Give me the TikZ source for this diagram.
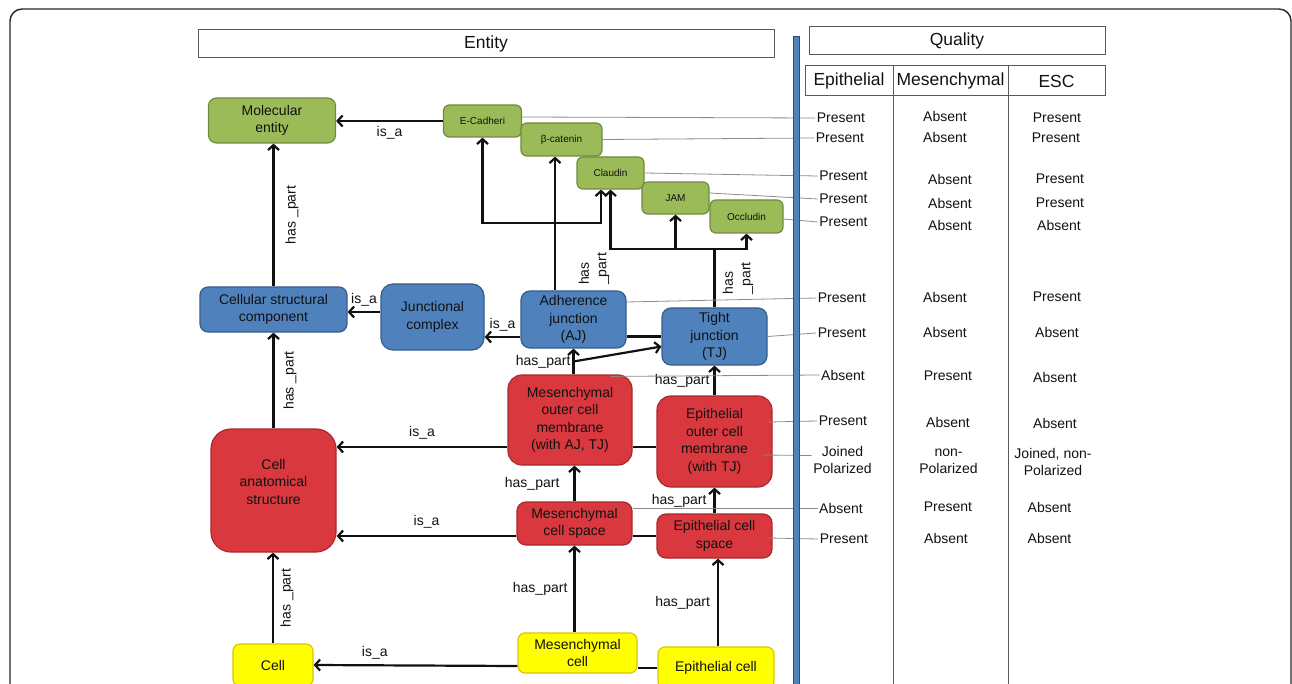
\documentclass[tikz,border=0pt]{standalone}
\usepackage{fontspec}
\setmainfont{Liberation Sans}
\usetikzlibrary{arrows.meta,calc}
\definecolor{molfill}{HTML}{9BBB59}
\definecolor{moledge}{HTML}{71893F}
\definecolor{cmpfill}{HTML}{4F81BD}
\definecolor{cmpedge}{HTML}{385D8A}
\definecolor{memfill}{HTML}{D9393E}
\definecolor{memedge}{HTML}{A9282D}
\definecolor{celfill}{HTML}{FFFF00}
\definecolor{celedge}{HTML}{D8C600}
\definecolor{barfill}{HTML}{4F81BD}
\definecolor{baredge}{HTML}{2C4D7A}
\definecolor{guide}{HTML}{8C8C8C}
\definecolor{rule}{HTML}{595959}
\definecolor{ink}{HTML}{111111}

\begin{document}
\begin{tikzpicture}[x=1pt,y=1pt,
  txt/.style={font=\fontsize{14}{17.5}\selectfont, text=ink},
  box/.style={txt, draw, line width=1.2pt, inner sep=0pt, align=center},
  molbox/.style={box, fill=molfill, draw=moledge, rounded corners=6, font=\fontsize{10}{12}\selectfont},
  molbig/.style={box, fill=molfill, draw=moledge, rounded corners=8},
  cmpbox/.style={box, fill=cmpfill, draw=cmpedge, rounded corners=9},
  membox/.style={box, fill=memfill, draw=memedge, rounded corners=14},
  celbox/.style={box, fill=celfill, draw=celedge, rounded corners=7},
  hdr/.style={draw=rule, line width=1pt, inner sep=0pt, font=\fontsize{17.5}{20}\selectfont, text=ink},
  val/.style={txt, font=\fontsize{14}{17}\selectfont, align=center, inner sep=1.5pt},
  lbl/.style={txt, inner sep=2pt},
  vlbl/.style={txt, rotate=90, align=left, inner sep=0pt},
  arr/.style={draw=ink, line width=2.2pt, -{Straight Barb[length=5pt,width=11pt]}},
  link/.style={draw=ink, line width=2.2pt},
  guideline/.style={draw=guide, line width=0.8pt},
  tbl/.style={draw=rule, line width=1pt},
]
\useasboundingbox (0,0) rectangle (1292,-684);

% outer frame
\draw[line width=1.4pt, draw=black!85, rounded corners=12] (10,-9) rectangle (1291,-720);

% headers
\node[hdr, minimum width=576, minimum height=28] (entity) at (486,-44) {Entity};
\node[hdr, minimum width=296, minimum height=28] (quality) at (957,-41) {Quality};
\node[hdr, minimum width=88, minimum height=30] (hE) at (849,-81) {Epithelial};
\node[hdr, minimum width=115, minimum height=30] (hM) at (950.5,-81) {Mesenchymal};
\node[hdr, minimum width=97, minimum height=30] (hS) at (1056.5,-81) {ESC};
\coordinate (tblbot) at (0,-700);
\draw[tbl] (hE.south east) -- (hE.south east |- tblbot);
\draw[tbl] (hM.south east) -- (hM.south east |- tblbot);

% molecular entities
\node[molbig, minimum width=127, minimum height=45] (mol) at (272,-120.5) {Molecular\\entity};
\node[molbox, minimum width=78, minimum height=32] (ecad) at (482.5,-121) {E-Cadheri};
\node[molbox, minimum width=81, minimum height=33] (bcat) at (561.5,-139.5) {β-catenin};
\node[molbox, minimum width=67, minimum height=32] (claudin) at (610.5,-173) {Claudin};
\node[molbox, minimum width=67, minimum height=32] (jam) at (675.5,-198) {JAM};
\node[molbox, minimum width=73, minimum height=33] (occ) at (746.5,-216.5) {Occludin};

% cellular components
\node[cmpbox, rounded corners=8, minimum width=147, minimum height=45] (csc) at (273.5,-309.5) {Cellular structural\\component};
\node[cmpbox, rounded corners=12, minimum width=103, minimum height=66] (jc) at (432.5,-317) {Junctional\\complex};
\node[cmpbox, minimum width=105, minimum height=57] (aj) at (573.5,-319.5) {Adherence\\junction\\(AJ)};
\node[cmpbox, minimum width=105, minimum height=57] (tj) at (714.5,-336.5) {Tight\\junction\\(TJ)};

% membranes and spaces
\node[membox, minimum width=124, minimum height=90] (mom) at (570,-420) {Mesenchymal\\outer cell\\membrane\\(with AJ, TJ)};
\node[membox, minimum width=115, minimum height=91] (eom) at (714.5,-441.5) {Epithelial\\outer cell\\membrane\\(with TJ)};
\node[membox, rounded corners=20, minimum width=125, minimum height=123] (cas) at (273.5,-490.5) {Cell\\anatomical\\structure\\ \mbox{}};
\node[membox, rounded corners=9, minimum width=115, minimum height=43] (mcs) at (574.5,-523.5) {Mesenchymal\\cell space};
\node[membox, rounded corners=9, minimum width=115, minimum height=44] (ecs) at (714.5,-536) {Epithelial cell\\space};

% cells
\node[celbox, minimum width=80, minimum height=42] (cell) at (273,-665) {Cell};
\node[celbox, minimum width=119, minimum height=40] (mc) at (577.5,-653) {Mesenchymal\\cell};
\node[celbox, minimum width=116, minimum height=42] (ec) at (716,-668) {Epithelial cell};

% helper rows
\coordinate (y223) at (0,-223);
\coordinate (y249) at (0,-249);

% upper part
\draw[arr] (ecad.west) -- node[lbl, below=2pt] {is\_a} (ecad.west -| mol.east);
\draw[arr] (csc.north) -- node[xshift=18.5, vlbl] {has \_part} (csc.north |- mol.south);
\coordinate (jcl) at ([yshift=5]jc.west);
\draw[arr] (jcl) -- node[lbl, above=3pt] {is\_a} (jcl -| csc.east);
\coordinate (ajl) at ([yshift=-17.5]aj.west);
\draw[arr] (ajl) -- node[lbl, above=3pt] {is\_a} (ajl -| jc.east);
\draw[link] (tj.west) -- (tj.west -| aj.east);

% adherence junction parts
\coordinate (ajup) at ([xshift=-18.5]aj.north);
\draw[arr] (ajup) -- node[pos=0.16, xshift=39, vlbl] {has\\\_part} (ajup |- bcat.south);
\coordinate (ajbr) at (ajup |- y223);
\draw[arr] (ajbr) -| (ecad.south);
\draw[arr] (ajbr) -| ([xshift=-9.5]claudin.south);

% tight junction parts
\coordinate (tjbr) at (tj.north |- y249);
\draw[link] (tj.north) -- node[xshift=23.5, vlbl] {has\\\_part} (tjbr);
\draw[arr] (tjbr) -| (claudin.south);
\draw[arr] (tjbr) -| (occ.south);
\draw[arr] (jam.south |- tjbr) -- (jam.south);

% membranes to junctions
\coordinate (momt) at (mom.north -| aj.south);
\draw[arr] (momt) -- node[lbl, left] {has\_part} (aj.south);
\coordinate (ajfork) at ($(momt)!0.5!(aj.south)$);
\draw[arr] (ajfork) -- ([yshift=-10]tj.west);
\draw[arr] (eom.north) -- node[lbl, left=2pt] {has\_part} (tj.south);

% membranes to anatomical structure
\coordinate (moml) at ([yshift=-27]mom.west);
\draw[arr] (moml) -- node[lbl, above=5pt] {is\_a} (moml -| cas.east);
\draw[link] (moml -| eom.west) -- (moml -| mom.east);
\draw[arr] (cas.north) -- node[xshift=16.5, vlbl] {has \_part} (cas.north |- csc.south);

% spaces
\draw[arr] (mcs.north) -- node[lbl, left=12pt] {has\_part} (mcs.north |- mom.south);
\draw[arr] (ecs.north) -- node[lbl, left=5pt] {has\_part} (eom.south);
\draw[arr] (ecs.west -| mcs.west) -- node[lbl, above=5pt] {is\_a} (ecs.west -| cas.east);
\draw[link] (ecs.west) -- (ecs.west -| mcs.east);

% cells
\draw[arr] (cell.north) -- node[xshift=14, vlbl] {has \_part} (cell.north |- cas.south);
\draw[arr] ([yshift=-13]mc.west) -- node[lbl, above=3pt, pos=0.7] {is\_a} (cell.east);
\draw[link] (ec.west) -- (ec.west -| mc.east);
\draw[arr] (mc.north -| mcs.south) -- node[lbl, left=4pt] {has\_part} (mcs.south);
\draw[arr] ([xshift=2]ec.north) -- node[lbl, left=5pt] {has\_part} ([xshift=2]ec.north |- ecs.south);

% quality values
\node[val] (e1) at (841,-118) {Present};   \node[val] (m1) at (945,-116) {Absent};  \node[val] (s1) at (1057,-118) {Present};
\node[val] (e2) at (840,-138) {Present};   \node[val] (m2) at (945,-137) {Absent};  \node[val] (s2) at (1056,-138) {Present};
\node[val] (e3) at (843.5,-176) {Present}; \node[val] (m3) at (950,-179) {Absent};  \node[val] (s3) at (1060,-179) {Present};
\node[val] (e4) at (843.5,-199) {Present}; \node[val] (m4) at (950,-203) {Absent};  \node[val] (s4) at (1060,-203) {Present};
\node[val] (e5) at (843.5,-222) {Present}; \node[val] (m5) at (950,-225) {Absent};  \node[val] (s5) at (1059,-225) {Absent};
\node[val] (e6) at (842,-298) {Present};   \node[val] (m6) at (945,-297) {Absent};  \node[val] (s6) at (1057,-297) {Present};
\node[val] (e7) at (842,-333) {Present};   \node[val] (m7) at (945,-332) {Absent};  \node[val] (s7) at (1057,-332) {Absent};
\node[val] (e8) at (843,-375) {Absent};    \node[val] (m8) at (948,-376) {Present}; \node[val] (s8) at (1055,-377) {Absent};
\node[val] (e9) at (843,-421) {Present};   \node[val] (m9) at (948,-422) {Absent};  \node[val] (s9) at (1055,-423) {Absent};
\node[val] (e10) at (842.5,-459.5) {Joined\\Polarized};
\node[val] (m10) at (948.5,-461) {non-\\Polarized};
\node[val] (s10) at (1053,-461.5) {Joined, non-\\Polarized};
\node[val] (e11) at (841,-508) {Absent};   \node[val] (m11) at (948,-507) {Present}; \node[val] (s11) at (1049.5,-507) {Absent};
\node[val] (e12) at (844,-539) {Present};  \node[val] (m12) at (946,-538) {Absent};  \node[val] (s12) at (1049.5,-538) {Absent};

% guide lines from entities to their qualities
\draw[guideline] ([yshift=4]ecad.east) -- (e1.west);
\draw[guideline] (bcat.east) -- (e2.west);
\draw[guideline] (claudin.east) -- (e3.west);
\draw[guideline] ([yshift=5]jam.east) -- (e4.west);
\draw[guideline] ([yshift=-2.5]occ.east) -- (e5.west);
\draw[guideline] ([yshift=17.5]aj.east) -- (e6.west);
\draw[guideline] (tj.east) -- (e7.west);
\draw[guideline] ([xshift=-22,yshift=-2]mom.north east) -- (e8.west);
\draw[guideline] ([xshift=-4,yshift=19.5]eom.east) -- (e9.west);
\draw[guideline] ([xshift=-10,yshift=-13.5]eom.east) -- ([yshift=4]e10.west);
\draw[guideline] ([yshift=15.5]mcs.east) -- (e11.west);
\draw[guideline] ([xshift=-4,yshift=-2]ecs.east) -- (e12.west);

% separator bar between entity and quality
\draw[draw=baredge, fill=barfill, line width=0.8pt] (793,-36) rectangle (799,-700);
\end{tikzpicture}
\end{document}
